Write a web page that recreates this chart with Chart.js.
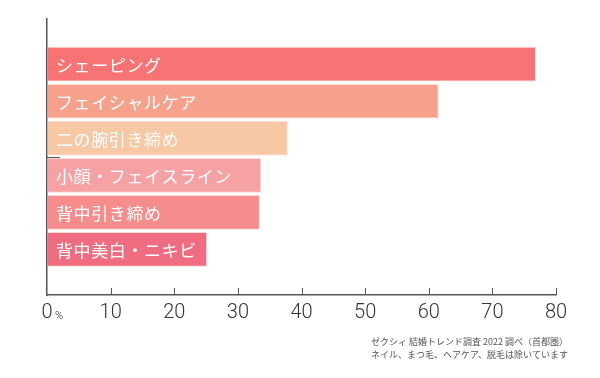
<!DOCTYPE html>
<html>
<head>
<meta charset="utf-8">
<script src="https://cdn.jsdelivr.net/npm/chart.js@4"></script>
<style>
html,body{margin:0;padding:0;background:#fff;}
#wrap{width:600px;height:378px;position:relative;}
</style>
</head>
<body>
<div id="wrap"><canvas id="c" width="600" height="378"></canvas></div>
<script>
const categories = ['シェーピング','フェイシャルケア','二の腕引き締め','小顔・フェイスライン','背中引き締め','背中美白・ニキビ'];
const values = [76.8, 61.5, 37.8, 33.6, 33.4, 25.1];
const barColors = ['#F87373','#F6A18B','#F7C8A4','#F6A2A5','#F68C8B','#F06C80'];
const xTicks = [0,10,20,30,40,50,60,70,80];
const notes = ['ゼクシィ 結婚トレンド調査 2022 調べ（首都圏）','ネイル、まつ毛、ヘアケア、脱毛は除いています'];

const points = values.map((v,i)=>({x:v, y:i}));

const decor = {
  id:'decor',
  afterDatasetsDraw(chart){
    const ctx = chart.ctx;
    const meta = chart.getDatasetMeta(0);
    const area = chart.chartArea;
    ctx.save();
    ctx.fillStyle = '#ffffff';
    ctx.font = '17px "Noto Sans CJK JP"';
    ctx.textBaseline = 'middle';
    ctx.textAlign = 'left';
    try { ctx.letterSpacing = '0.6px'; } catch(e){}
    meta.data.forEach((el,i)=>{
      ctx.fillText(categories[i], area.left + 9, el.y + 1);
    });
    ctx.restore();
  },
  afterDraw(chart){
    const ctx = chart.ctx;
    const xs = chart.scales.x;
    const ys = chart.scales.y;
    const area = chart.chartArea;
    ctx.save();
    ctx.strokeStyle = '#555';
    ctx.lineWidth = 1;
    xTicks.slice(1).forEach(t=>{
      const px = Math.round(xs.getPixelForValue(t)) + 0.5;
      ctx.beginPath();
      ctx.moveTo(px, area.bottom);
      ctx.lineTo(px, area.bottom - 7);
      ctx.stroke();
    });
    const ym = Math.round(ys.getPixelForValue(2.5)) + 0.5;
    ctx.beginPath();
    ctx.moveTo(area.left, ym);
    ctx.lineTo(area.left + 13, ym);
    ctx.stroke();
    ctx.fillStyle = '#333';
    ctx.font = '300 11px Roboto';
    ctx.textAlign = 'left';
    ctx.textBaseline = 'alphabetic';
    ctx.fillText('%', xs.getPixelForValue(0) + 8, area.bottom + 24);
    ctx.fillStyle = '#555';
    ctx.font = '9px "Noto Sans CJK JP"';
    ctx.textAlign = 'right';
    ctx.textBaseline = 'middle';
    notes.forEach((n,i)=>{
      ctx.fillText(n, 568, 342 + i*13);
    });
    ctx.restore();
  }
};

new Chart(document.getElementById('c'), {
  type:'bar',
  data:{
    datasets:[{
      data: points,
      backgroundColor: barColors,
      borderColor: 'rgba(255,215,215,0.9)',
      borderWidth: 1,
      barThickness: 34
    }]
  },
  options:{
    indexAxis:'y',
    responsive:false,
    animation:false,
    events:[],
    layout:{padding:{left:47, right:44, top:19, bottom:47}},
    plugins:{legend:{display:false}, tooltip:{enabled:false}},
    scales:{
      x:{
        type:'linear',
        min:0, max:80,
        afterBuildTicks(scale){ scale.ticks = xTicks.map(v=>({value:v})); },
        grid:{display:true, drawOnChartArea:false, drawTicks:false},
        border:{display:true, color:'#555', width:1.5},
        ticks:{
          padding:6,
          color:'#333',
          font:{family:'Roboto', size:20, weight:'300'},
          maxRotation:0,
          autoSkip:false
        }
      },
      y:{
        type:'linear',
        reverse:true,
        offset:false,
        bounds:'data',
        min:-1.22, max:6.23,
        grid:{display:false, drawTicks:false},
        border:{display:true, color:'#555', width:1.5},
        ticks:{display:false}
      }
    }
  },
  plugins:[decor]
});
</script>
</body>
</html>
